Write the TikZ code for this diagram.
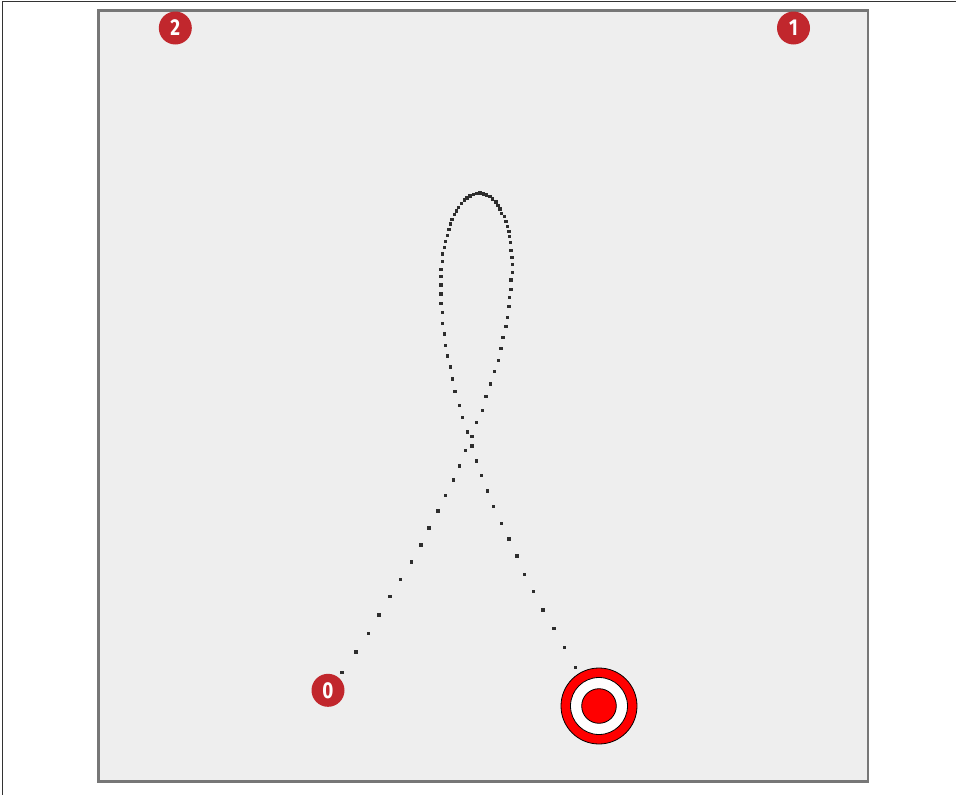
\documentclass[tikz,border=0pt]{standalone}
\usepackage{fontspec}
\setmainfont{Fira Sans}
\newfontfamily\badgefont[FakeStretch=0.82]{Fira Sans Bold}
\definecolor{badgered}{RGB}{193,39,45}
\definecolor{panelgray}{RGB}{238,238,238}
\definecolor{panelborder}{RGB}{119,119,119}
\definecolor{dotc}{RGB}{45,45,45}
\definecolor{framec}{RGB}{51,51,51}
\begin{document}
\begin{tikzpicture}[x=1pt,y=-1pt,
  badge/.style={circle,fill=badgered,text=white,minimum size=33pt,inner sep=0pt,font=\badgefont\fontsize{23}{23}\selectfont},
  trail/.style={fill=dotc}]
\useasboundingbox (0,0) rectangle (956,795);
% outer frame
\draw[framec,line width=1pt] (2.5,795) -- (2.5,1.5) -- (956,1.5);
% panel
\draw[panelborder,fill=panelgray,line width=2.6pt] (98.3,10.7) rectangle (868,781.5);
% trajectory dots
\foreach \x/\y in {342/672.3,356/652,368.3/633.3,379/615,390/596.3,400.7/579.3,411.7/562,421/545,429/528,438/511,445.7/495.3,453.3/480,459.7/466,465.7/450.7,472/436.7,
476.7/422.7,482.7/410.3,486/396.7,490.7/384,494.3/371.7,498.3/360.7,501/348.3,503/337.3,506/326.7,507.7/317.3,509/306.7,509.3/297.7,511/289.3,511/280,512.3/272.3,512.3/264.7,512/257.3,511/250.7,510.7/242.7,509.3/236.7,509/231.3,507.3/226.7,506/221.3,504.3/216.7,501.7/213.3,500/209,498/205.7,496/202,492.7/199,490/196.7,486.7/195,483.3/194,480/193,476.7/193.3,473.3/194.3,470/196,467/198,464.3/200,461.3/203.3,458.3/207.3,456.7/211,454.7/214.7,452/219.3,450.7/224,449/229.3,447.3/235.3,445.7/241.3,444.3/247.3,442.7/254,442.7/261.3,441/269.3,441/276.7,441/285,441/294,441/303.3,442.7/312.7,442.7/323.3,444.3/334,445.7/345.3,447.3/356,450.3/367,452.7/379,455/391.7,459.3/405.7,462.7/417.7,467.3/432,
472/446,476.3/461,481.3/475.3,487.7/491,493.7/506.7,501.3/523.3,509/539,517/556,524.7/574.3,533.7/591.7,543/610,554/628.7,564.7/647.3,575.7/667.3}
  \fill[trail] ({\x-1.7},{\y-1.7}) rectangle ({\x+1.7},{\y+1.7});
% target
\coordinate (target) at (599,706);
\draw[black,fill=red,line width=0.8pt] (target) circle (38pt);
\draw[black,fill=white,line width=0.8pt] (target) circle (28.5pt);
\draw[black,fill=red,line width=0.8pt] (target) circle (17.3pt);
% badges
\node[badge] (b2) at (175.3,28) {2};
\node[badge] (b1) at (793.5,28) {1};
\node[badge] (b0) at (328,690.3) {0};
\end{tikzpicture}
\end{document}
